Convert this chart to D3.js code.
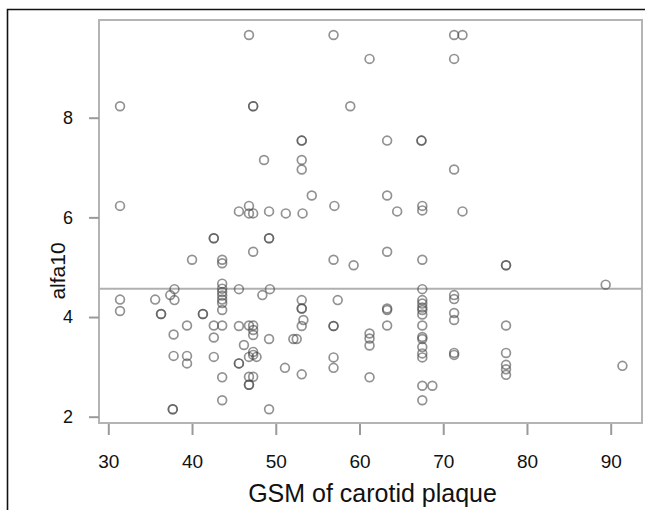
<!DOCTYPE html>
<html>
<head>
<meta charset="utf-8">
<script src="https://cdn.jsdelivr.net/npm/d3@7"></script>
<style>
  html, body { margin: 0; padding: 0; background: #fff; }
  svg { display: block; font-family: "Liberation Sans", Arial, sans-serif; }
</style>
</head>
<body>
<svg id="chart" width="645" height="510"></svg>
<script>
// ---- data ----
const gsm = [
  46.8, 31.4, 47.3, 47.3, 48.6, 31.4, 45.6, 46.8, 46.8, 47.3, 49.2, 51.2,
  56.9, 71.3, 72.3, 61.2, 71.3, 58.9, 53.1, 53.1, 63.3, 67.4, 67.4, 53.1,
  53.1, 71.3, 54.3, 63.3, 57.0, 53.2, 64.5, 67.5, 67.5, 72.3,
  42.6, 42.6, 49.2, 49.2, 47.3, 40.0, 43.6, 43.6,
  37.9, 37.4, 37.9, 31.4, 31.4, 35.6, 36.3, 36.3,
  43.6, 43.6, 43.6, 43.6, 43.6, 43.6, 43.6, 45.6, 49.3, 48.4, 41.3, 41.3,
  39.4, 42.6, 43.6, 45.6, 46.8, 47.3, 47.3, 47.3, 37.8, 42.6, 49.2, 46.2,
  37.8, 39.4, 39.4, 42.6, 45.6, 45.6, 46.8, 47.3, 47.7, 47.3, 51.1,
  43.6, 46.8, 47.3, 46.8, 46.8, 43.6, 37.7, 37.7, 49.2,
  56.9, 59.3, 63.3, 67.5, 67.5, 53.1, 53.1, 53.1, 53.3, 53.1, 57.4, 56.9, 56.9,
  52.1, 52.5, 53.1, 56.9, 56.9, 61.2, 61.2, 61.2, 61.2, 63.3, 63.3, 63.3,
  67.5, 67.5, 67.5, 67.5, 67.5, 67.5, 67.5, 67.5, 67.5, 67.5, 67.5,
  67.5, 68.7, 67.5, 71.3, 71.3, 71.3, 71.3, 71.3, 71.3,
  77.5, 77.5, 89.4, 77.5, 77.5, 77.5, 77.5, 77.5, 91.4
];
const alfa10 = [
  9.66, 8.23, 8.23, 8.23, 7.15, 6.23, 6.12, 6.23, 6.08, 6.08, 6.12, 6.08,
  9.66, 9.66, 9.66, 9.18, 9.18, 8.23, 7.54, 7.54, 7.54, 7.54, 7.54, 7.15,
  6.96, 6.96, 6.44, 6.44, 6.23, 6.08, 6.12, 6.23, 6.14, 6.12,
  5.58, 5.58, 5.58, 5.58, 5.31, 5.15, 5.15, 5.08,
  4.56, 4.44, 4.34, 4.35, 4.12, 4.35, 4.06, 4.06,
  4.67, 4.57, 4.50, 4.43, 4.35, 4.28, 4.14, 4.56, 4.56, 4.44, 4.06, 4.06,
  3.83, 3.83, 3.83, 3.82, 3.83, 3.83, 3.74, 3.64, 3.65, 3.59, 3.56, 3.44,
  3.22, 3.22, 3.07, 3.20, 3.07, 3.07, 3.20, 3.24, 3.20, 3.30, 2.98,
  2.79, 2.80, 2.80, 2.64, 2.64, 2.33, 2.15, 2.15, 2.15,
  5.15, 5.04, 5.31, 5.15, 4.56, 4.34, 4.17, 4.17, 3.94, 3.82, 4.34, 3.82, 3.82,
  3.56, 3.56, 2.85, 3.19, 2.98, 3.67, 3.57, 3.43, 2.79, 4.17, 4.14, 3.83,
  4.34, 4.27, 4.19, 4.14, 4.05, 3.83, 3.60, 3.56, 3.40, 3.27, 3.19,
  2.62, 2.62, 2.33, 4.44, 4.36, 4.08, 3.94, 3.28, 3.24,
  5.04, 5.04, 4.65, 3.83, 3.28, 3.04, 2.95, 2.84, 3.02
];
const xTicks = [30, 40, 50, 60, 70, 80, 90];
const yTicks = [2, 4, 6, 8];
const refLine = 4.57;
const xLabel = "GSM of carotid plaque";
const yLabel = "alfa10";

// ---- layout ----
const box = { left: 99, top: 20, right: 642, bottom: 423 };
const svg = d3.select("#chart");

const x = d3.scaleLinear().domain([30, 90]).range([108.3, 610.7]);
const y = d3.scaleLinear().domain([2, 8]).range([416.7, 117.7]);

// outer frame (top and left lines)
svg.append("path")
  .attr("d", `M7.5,510 L7.5,9.5 L645,9.5`)
  .attr("fill", "none").attr("stroke", "#111").attr("stroke-width", 1.6);

// plot box
svg.append("rect")
  .attr("x", box.left).attr("y", box.top)
  .attr("width", box.right - box.left).attr("height", box.bottom - box.top)
  .attr("fill", "none").attr("stroke", "#b4b4b4").attr("stroke-width", 2);

// reference line
svg.append("line")
  .attr("x1", box.left).attr("x2", box.right)
  .attr("y1", y(refLine)).attr("y2", y(refLine))
  .attr("stroke", "#b0b0b0").attr("stroke-width", 2);

const fmt = d3.format("d");

// axes
const xAxis = svg.append("g")
  .attr("transform", `translate(0,${box.bottom + 1})`)
  .call(d3.axisBottom(x).tickValues(xTicks).tickFormat(fmt).tickSize(11).tickSizeOuter(0).tickPadding(20));
xAxis.select(".domain").remove();
xAxis.selectAll(".tick line").attr("stroke", "#9a9a9a").attr("stroke-width", 2);
xAxis.selectAll(".tick text").attr("fill", "#111").style("font-size", "19px")
  .style("font-family", "'Liberation Sans', Arial, sans-serif");

const yAxis = svg.append("g")
  .attr("transform", `translate(${box.left},0)`)
  .call(d3.axisLeft(y).tickValues(yTicks).tickFormat(fmt).tickSize(10).tickSizeOuter(0).tickPadding(16));
yAxis.select(".domain").remove();
yAxis.selectAll(".tick line").attr("stroke", "#9a9a9a").attr("stroke-width", 2);
yAxis.selectAll(".tick text").attr("fill", "#111").style("font-size", "18px")
  .style("font-family", "'Liberation Sans', Arial, sans-serif");

// points
const pts = gsm.map((g, i) => ({ g, a: alfa10[i] }));
svg.append("g").selectAll("circle").data(pts).join("circle")
  .attr("cx", d => x(d.g)).attr("cy", d => y(d.a)).attr("r", 4.4)
  .attr("fill", "none").attr("stroke", "#4a4a4a").attr("stroke-opacity", 0.6)
  .attr("stroke-width", 1.7);

// labels
svg.append("text")
  .attr("x", (box.left + box.right) / 2 + 2).attr("y", 502)
  .attr("text-anchor", "middle").attr("fill", "#111")
  .style("font-size", "25px").text(xLabel);

svg.append("text")
  .attr("transform", `translate(65,271) rotate(-90)`)
  .attr("text-anchor", "middle").attr("fill", "#111")
  .style("font-size", "21px").text(yLabel);
</script>
</body>
</html>
